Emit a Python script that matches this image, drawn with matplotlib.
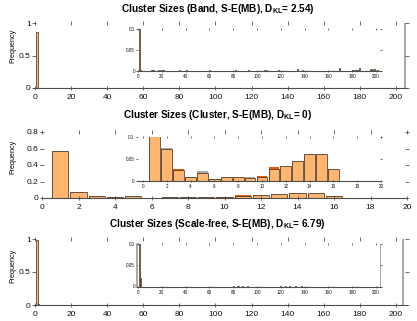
import matplotlib
matplotlib.use('Agg')
import matplotlib.pyplot as plt
import numpy as np

plt.rcParams['font.family'] = ['Liberation Sans', 'DejaVu Sans']
plt.rcParams['mathtext.fontset'] = 'custom'
plt.rcParams['mathtext.rm'] = 'Liberation Sans'
plt.rcParams['mathtext.bf'] = 'Liberation Sans:bold'
plt.rcParams['mathtext.it'] = 'Liberation Sans:italic'

# ---------------- data ----------------
titles = [
    r'Cluster Sizes (Band, S-E(MB), $\mathbf{D_{KL}}$= 2.54)',
    r'Cluster Sizes (Cluster, S-E(MB), $\mathbf{D_{KL}}$= 0)',
    r'Cluster Sizes (Scale-free, S-E(MB), $\mathbf{D_{KL}}$= 6.79)',
]

# Band
band_sizes = [1, 2, 11, 12, 13, 17, 19, 21, 35, 41, 60, 82, 93, 106, 108, 118,
              134, 138, 169, 180, 182, 184, 186, 195, 197, 199, 201]
band_pred = [0.86, 0.003, 0.003, 0.003, 0.003, 0.003, 0.003, 0.003, 0.003, 0.003,
             0.003, 0.002, 0.003, 0.003, 0.003, 0.002, 0.004, 0.002, 0.006, 0.003,
             0.003, 0.003, 0.007, 0.004, 0.005, 0.004, 0.003]
band_true_sizes = [205]
band_true = [1.0]
band_alt_sizes = []
band_alt = []

# Cluster
clus_sizes = list(range(1, 17))
clus_pred = [0.57, 0.072, 0.025, 0.010, 0.019, 0.005, 0.008, 0.008, 0.007, 0.010,
             0.028, 0.033, 0.046, 0.061, 0.061, 0.027]
clus_true = [0.57, 0.075, 0.025, 0.010, 0.022, 0.005, 0.009, 0.009, 0.009, 0.010,
             0.028, 0.033, 0.046, 0.061, 0.061, 0.027]
clus_alt_sizes = [3, 10, 11]
clus_alt = [0.027, 0.012, 0.031]

# Scale-free
sf_sizes = [1, 2, 80, 84, 88, 92, 120, 124, 127, 132, 137]
sf_pred = [0.978, 0.02, 0.001, 0.001, 0.001, 0.001, 0.001, 0.001, 0.001, 0.001, 0.001]
sf_true_sizes = [204]
sf_true = [1.0]
sf_alt_sizes = []
sf_alt = []

big_xticks = list(range(0, 201, 20))
small_xticks = list(range(0, 21, 2))

ORANGE = '#FDB56F'
DARK = '#3a2c22'
GRAY = '#a9a9a9'
RED = '#e8590c'

W, H = 417, 321
fig = plt.figure(figsize=(W / 100, H / 100), dpi=100)


def add_ax(x0, x1, ytop, ybot):
    return fig.add_axes([x0 / W, 1 - ybot / H, (x1 - x0) / W, (ybot - ytop) / H])


def style(ax, fs, ticklen, xpad, ypad):
    for s in ['top', 'left', 'right']:
        ax.spines[s].set_visible(False)
    ax.spines['bottom'].set_color('#4d4d4d')
    ax.spines['bottom'].set_linewidth(0.8)
    ax.tick_params(direction='inout', length=ticklen, width=0.5, color='#333333',
                   labelsize=fs, top=True, right=True, labelcolor='#111111')
    ax.tick_params(axis='x', pad=xpad)
    ax.tick_params(axis='y', pad=ypad)


def draw(ax, tsz, tv, asz, av, psz, pv, width):
    if len(tsz):
        ax.bar(tsz, tv, width=width, color=GRAY, linewidth=0)
    if len(asz):
        ax.bar(asz, av, width=width, color=RED, linewidth=0)
    ax.bar(psz, pv, width=width, color=ORANGE, edgecolor=DARK, linewidth=0.5)


panels = [
    dict(sizes=band_sizes, pred=band_pred, tsz=band_true_sizes, tv=band_true,
         asz=band_alt_sizes, av=band_alt, main=(34.1, 406.8, 23, 88),
         xlim=(-0.5, 206), ylim=(0, 1), yticks=[0, 0.5, 1], ytl=['0', '0.5', '1'],
         xticks=big_xticks, inset=(137.4, 381.4, 29, 71), ixlim=(-0.5, 204.5),
         ixticks=big_xticks, title_y=12, ylab_y=45.5, ispine=False),
    dict(sizes=clus_sizes, pred=clus_pred, tsz=clus_sizes, tv=clus_true,
         asz=clus_alt_sizes, av=clus_alt, main=(42, 407, 132, 198),
         xlim=(0, 20), ylim=(0, 0.8), yticks=[0, 0.2, 0.4, 0.6, 0.8],
         ytl=['0', '0.2', '0.4', '0.6', '0.8'],
         xticks=small_xticks, inset=(137, 381, 137, 181), ixlim=(-0.5, 20),
         ixticks=small_xticks, title_y=118.5, ylab_y=157, ispine=False),
    dict(sizes=sf_sizes, pred=sf_pred, tsz=sf_true_sizes, tv=sf_true,
         asz=sf_alt_sizes, av=sf_alt, main=(34.1, 406.8, 239, 305),
         xlim=(-0.5, 206), ylim=(0, 1), yticks=[0, 0.5, 1], ytl=['0', '0.5', '1'],
         xticks=big_xticks, inset=(137.4, 381.4, 243.5, 286.5), ixlim=(-0.5, 204.5),
         ixticks=big_xticks, title_y=227, ylab_y=266, ispine=True),
]

for i, p in enumerate(panels):
    ax = add_ax(*p['main'])
    draw(ax, p['tsz'], p['tv'], p['asz'], p['av'], p['sizes'], p['pred'], 0.9)
    ax.set_xlim(*p['xlim'])
    ax.set_ylim(*p['ylim'])
    ax.set_xticks(p['xticks'])
    ax.set_yticks(p['yticks'])
    ax.set_yticklabels(p['ytl'])
    style(ax, 6, 2.5, 3, 1.2)

    ins = add_ax(*p['inset'])
    ins.set_facecolor('none')
    draw(ins, p['tsz'], p['tv'], p['asz'], p['av'], p['sizes'], p['pred'], 0.9)
    ins.set_xlim(*p['ixlim'])
    ins.set_ylim(0, 0.1)
    ins.set_xticks(p['ixticks'])
    ins.set_yticks([0, 0.05, 0.1])
    ins.set_yticklabels(['0', '0.05', '0.1'])
    style(ins, 3.3, 2.0, 1.2, 0.8)
    if p['ispine']:
        ins.spines['left'].set_visible(True)
        ins.spines['left'].set_color('#9a9a9a')
        ins.spines['left'].set_linewidth(1.2)

    fig.text(217.5 / W, 1 - p['title_y'] / H, titles[i], ha='center', va='baseline',
             fontsize=7.2, fontweight='bold')
    fig.text(13 / W, 1 - p['ylab_y'] / H, 'Frequency', ha='center', va='center',
             rotation=90, fontsize=5.2)

fig.savefig('out.png', dpi=100)
